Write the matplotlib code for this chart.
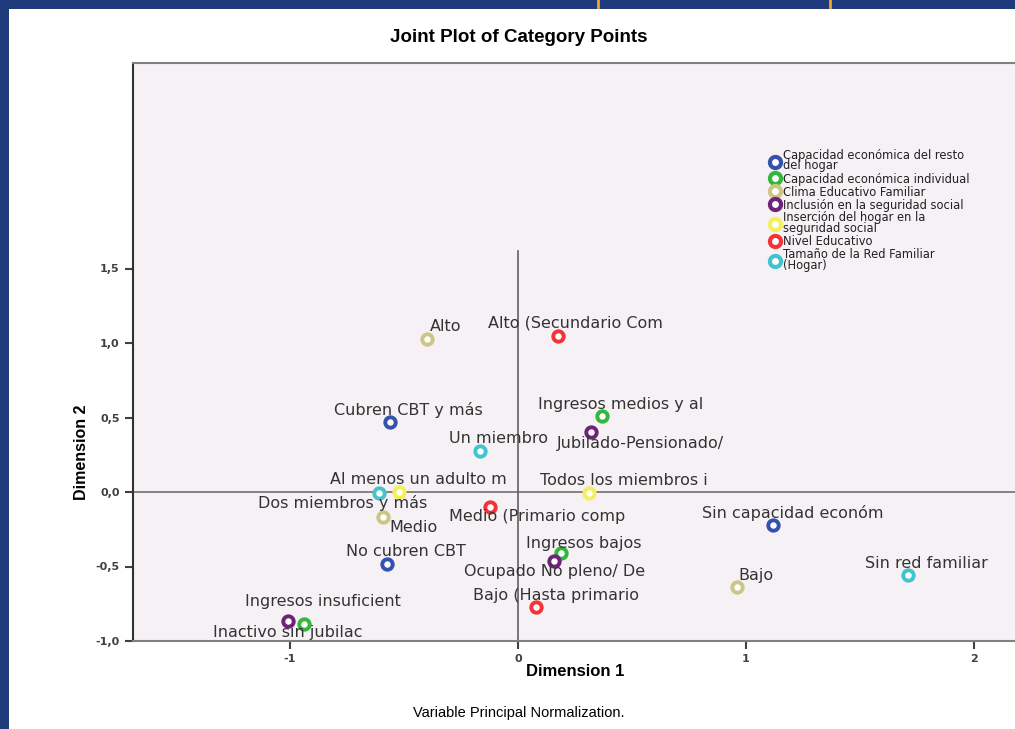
import matplotlib.pyplot as plt
from matplotlib.lines import Line2D
from matplotlib.patches import Rectangle
from matplotlib.ticker import FuncFormatter

# variable groups (legend order) and their colours
groups = [
    "Capacidad económica del resto\ndel hogar",
    "Capacidad económica individual",
    "Clima Educativo Familiar",
    "Inclusión en la seguridad social",
    "Inserción del hogar en la\nseguridad social",
    "Nivel Educativo",
    "Tamaño de la Red Familiar\n(Hogar)",
]
group_colors = ["#3352b0", "#2fb83a", "#cdc586", "#6e2378", "#f4f05a", "#f0343a", "#43c3cb"]

# category points
cat_names = [
    "Cubren CBT y más", "No cubren CBT", "Sin capacidad económ",
    "Ingresos medios y al", "Ingresos bajos", "Ingresos insuficient",
    "Alto", "Medio", "Bajo",
    "Jubilado-Pensionado/", "Ocupado No pleno/ De", "Inactivo sin jubilac",
    "Al menos un adulto m", "Todos los miembros i",
    "Alto (Secundario Com", "Medio (Primario comp", "Bajo (Hasta primario",
    "Un miembro", "Dos miembros y más", "Sin red familiar",
]
cat_group = [0, 0, 0, 1, 1, 1, 2, 2, 2, 3, 3, 3, 4, 4, 5, 5, 5, 6, 6, 6]
dim1 = [-0.56, -0.575, 1.12, 0.37, 0.19, -0.94, -0.40, -0.59, 0.96,
        0.32, 0.16, -1.01, -0.52, 0.31, 0.175, -0.125, 0.08, -0.165, -0.61, 1.71]
dim2 = [0.47, -0.48, -0.22, 0.51, -0.41, -0.885, 1.03, -0.17, -0.64,
        0.40, -0.46, -0.865, 0.0, -0.01, 1.05, -0.10, -0.77, 0.275, -0.01, -0.56]

# label offsets in pixels (x right, y up) from each point
label_dx = [18, 19, 19, 18, 22, 19, 19, 30, 19, 49, 0, 0, 19, 35, 18, 48, 20, 18, -36, 19]
label_dy = [12, 12, 12, 12, 10, 22, 12, -10, 12, -11, -11, -12, 13, 13, 13, -10, 11, 13, -10, 12]

W, H = 1015, 729
fig = plt.figure(figsize=(W / 100, H / 100), dpi=100, facecolor="#1f3b7b")
fig.patches.append(Rectangle((9 / W, 0), 1, 1 - 9 / H, transform=fig.transFigure,
                             facecolor="white", edgecolor="none", zorder=-5))
for xo in (598, 830):
    fig.add_artist(Line2D([xo / W, xo / W], [1, 1 - 7 / H], transform=fig.transFigure,
                          color="#f5a623", lw=2))

ax_left, ax_right, ax_top, ax_bottom = 133, 1040, 63, 641
ax = fig.add_axes([ax_left / W, 1 - ax_bottom / H, (ax_right - ax_left) / W,
                   (ax_bottom - ax_top) / H])
ax.set_facecolor("#f6f1f5")
ax.set_xlim((ax_left - 518) / 228, (ax_right - 518) / 228)
ax.set_ylim(-1.0, (492 - ax_top) / 149)

for side in ["top", "right", "bottom"]:
    ax.spines[side].set_color("#808080")
    ax.spines[side].set_linewidth(1.5)
ax.spines["left"].set_color("#303030")
ax.spines["left"].set_linewidth(1.5)

ax.axhline(0, color="#707070", lw=1.2, zorder=1)
ax.plot([0, 0], [-1.0, 1.62], color="#606060", lw=1.2, zorder=1)

ax.set_xticks([-1, 0, 1, 2])
ax.set_yticks([-1.0, -0.5, 0.0, 0.5, 1.0, 1.5])
ax.yaxis.set_major_formatter(FuncFormatter(lambda v, p: f"{v:.1f}".replace(".", ",")))
ax.xaxis.set_major_formatter(FuncFormatter(lambda v, p: f"{v:.0f}"))
ax.tick_params(length=6, width=1.5, color="#404040", labelsize=8, labelcolor="#404040")
for lab in ax.get_xticklabels() + ax.get_yticklabels():
    lab.set_fontweight("bold")

for name, x, y, g, dx, dy in zip(cat_names, dim1, dim2, cat_group, label_dx, label_dy):
    ax.plot(x, y, "o", ms=7.5, mfc="white", mec=group_colors[g], mew=2.8, zorder=3)
    ax.annotate(name, (x, y), xytext=(dx, dy), textcoords="offset pixels",
                ha="center", va="center", fontsize=11.5, color="#333333", zorder=4)

handles = [Line2D([], [], ls="none", marker="o", ms=8, mfc="white", mec=c, mew=3)
           for c in group_colors]
leg = fig.legend(handles, groups, loc="upper left", bbox_to_anchor=(770 / W, 1 - 149 / H),
                 frameon=False, fontsize=8.3, handlelength=0.8, handletextpad=0.3,
                 labelspacing=0.0, borderaxespad=0, borderpad=0)
for t in leg.get_texts():
    t.set_linespacing(0.75)
    t.set_color("#222222")

fig.text(519 / W, 1 - 38 / H, "Joint Plot of Category Points", ha="center", va="center",
         fontsize=13.5, fontweight="bold", family="Liberation Sans")
fig.text(575 / W, 1 - 671 / H, "Dimension 1", ha="center", va="center",
         fontsize=12, fontweight="bold", family="Liberation Sans")
fig.text(82 / W, 1 - 452 / H, "Dimension 2", ha="center", va="center", rotation=90,
         fontsize=11.5, fontweight="bold", family="Liberation Sans")
fig.text(519 / W, 1 - 713 / H, "Variable Principal Normalization.", ha="center",
         va="center", fontsize=10.5, family="Liberation Sans")

fig.savefig("out.png", dpi=100, facecolor=fig.get_facecolor())
